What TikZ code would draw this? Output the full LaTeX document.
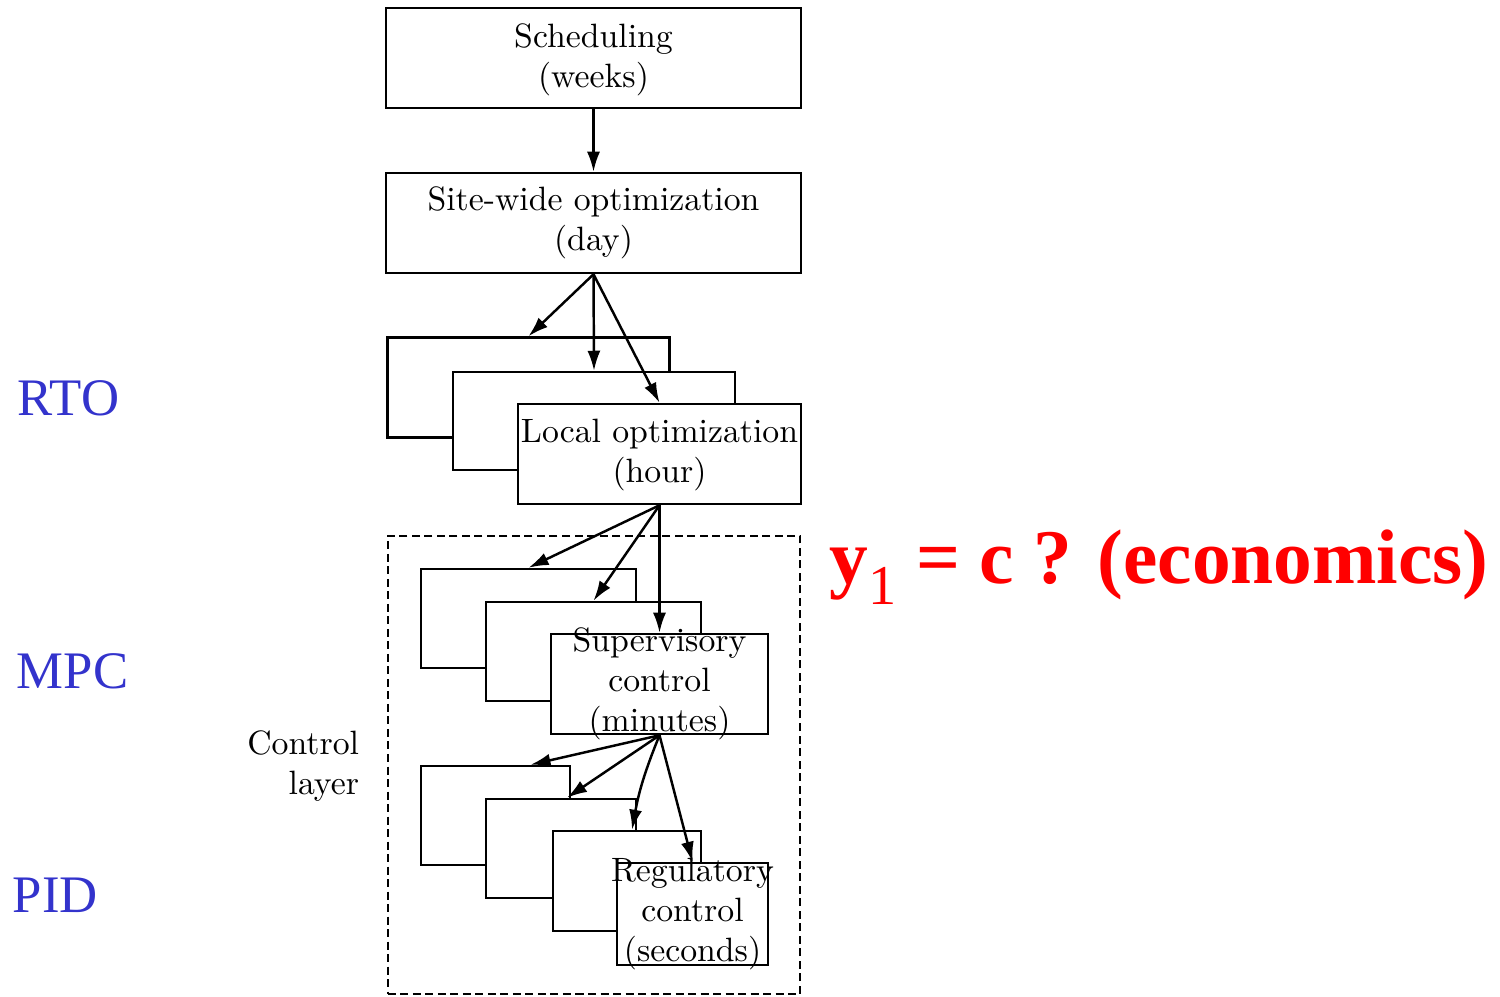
\documentclass[tikz,border=0pt]{standalone}
\usepackage{fontspec}
\usetikzlibrary{arrows.meta}
\newfontfamily\timesfont{Liberation Serif}
\definecolor{labelblue}{RGB}{51,51,204}

\begin{document}
\begin{tikzpicture}[x = 0.01cm, y = -0.01cm, line width = 0.7pt,
                     blk/.style = {rectangle, draw, fill = white, inner sep = 0pt, minimum height = 1cm},
                     txt/.style = {align = center, font = \fontsize{9.6}{11.4}\selectfont},
                     arr/.style = {-{Latex[length = 2mm, width = 1.3mm]}},
                     dashbox/.style = {draw, dash pattern = on 0.8mm off 0.45mm, inner sep = 0pt},
                     layertag/.style = {text = labelblue, anchor = base west, font = \timesfont\fontsize{15}{15}\selectfont}]
    \useasboundingbox (0, 0) rectangle (1500, 996);

    % upper levels
    \node [blk, minimum width = 4.15cm] (sched) at (593.5, 58){};
    \node [blk, minimum width = 4.15cm] (site) at (593.5, 223){};
    \node [blk, minimum width = 2.82cm] (r1) at (528.5, 387.5){};
    \node [blk, minimum width = 2.82cm, minimum height = 0.98cm] (r2) at (594, 421){};
    \node [blk, minimum width = 2.83cm] (r3) at (659.5, 454){};

    % control layer
    \node [dashbox, minimum width = 4.12cm, minimum height = 4.58cm] (ctrl) at (594, 765){};
    \node [blk, minimum width = 2.15cm, minimum height = 0.99cm] (m1) at (528.5, 618.5){};
    \node [blk, minimum width = 2.15cm, minimum height = 0.99cm] (m2) at (593.5, 651.5){};
    \node [blk, minimum width = 2.17cm] (m3) at (659.5, 684){};
    \node [blk, minimum width = 1.49cm, minimum height = 0.99cm] (p1) at (495.5, 815.5){};
    \node [blk, minimum width = 1.50cm, minimum height = 0.99cm] (p2) at (561, 848.5){};
    \node [blk, minimum width = 1.48cm] (p3) at (627, 881){};
    \node [blk, minimum width = 1.51cm, minimum height = 1.02cm] (p4) at (692.5, 914){};

    \node [txt] (tsched) at ([yshift = -0.02cm]sched) {Scheduling\\(weeks)};
    \node [txt] (tsite) at (site) {Site-wide optimization\\(day)};
    \node [txt] (tlocal) at ([yshift = -0.01cm]r3) {Local optimization\\(hour)};
    \node [txt] (tsup) at (m3) {Supervisory\\control\\(minutes)};
    \node [txt] (treg) at (p4) {Regulatory\\control\\(seconds)};
    \node [txt, align = right, anchor = east] (tctrl) at (372, 766) {Control\\layer};

    \draw [arr] (sched.south) -- (site.north);
    \foreach \b in {r1, r2, r3}
        \draw [arr] (site.south) -- (\b.north);
    \foreach \b in {m1, m2, m3}
        \draw [arr] (r3.south) -- (\b.north);
    \draw [arr] (m3.south) -- ([xshift = 0.35cm]p1.north);
    \draw [arr] (m3.south) -- ([xshift = 0.06cm]p2.north);
    \draw [arr] (m3.south) to [bend right = 6] ([xshift = 0.05cm]p3.north);
    \draw [arr] (m3.south) -- (p4.north);

    % side labels
    \node [layertag] (rto) at (5, 415) {RTO};
    \node [layertag] (mpc) at (4, 688) {MPC};
    \node [layertag] (pid) at (0, 912) {PID};
    \node [anchor = base west, text = red, font = \timesfont\bfseries\fontsize{22}{22}\selectfont] (econ) at (817, 583)
        {y\raisebox{-6pt}{\mdseries\fontsize{16}{16}\selectfont 1} = c ? (economics)};
\end{tikzpicture}
\end{document}
